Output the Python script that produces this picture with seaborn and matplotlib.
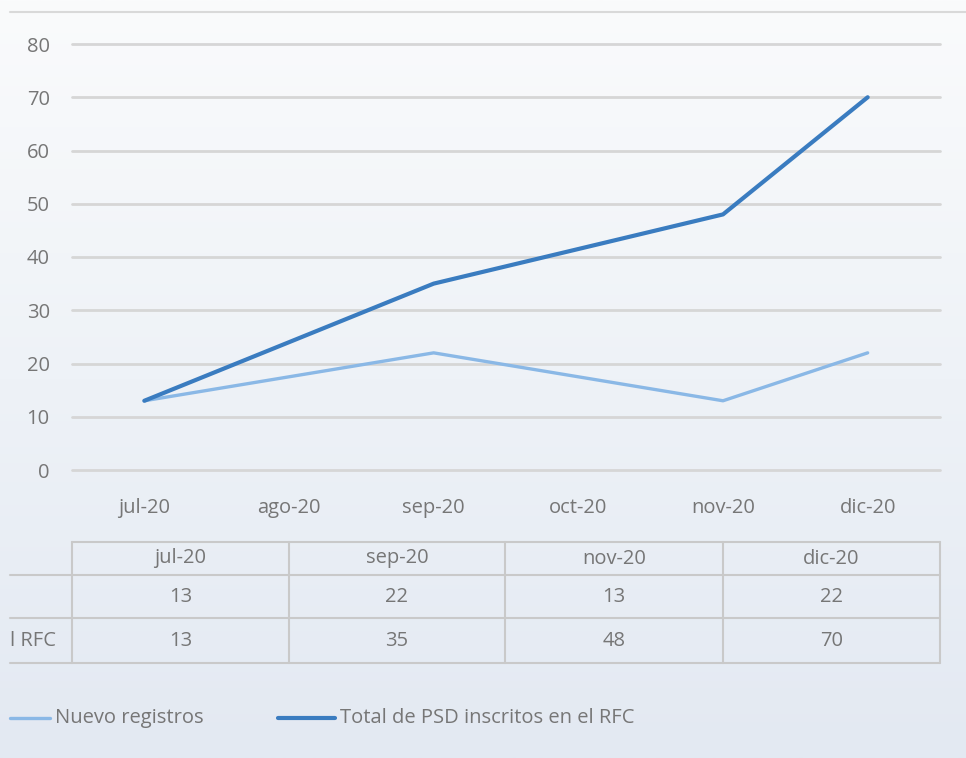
import numpy as np
import pandas as pd
import matplotlib
matplotlib.use("Agg")
import matplotlib.pyplot as plt
from matplotlib.lines import Line2D
import seaborn as sns

# data
months = ["jul-20", "ago-20", "sep-20", "oct-20", "nov-20", "dic-20"]
data_months = ["jul-20", "sep-20", "nov-20", "dic-20"]
nuevo = [13, 22, 13, 22]
total = [13, 35, 48, 70]
series_names = ["Nuevo registros", "Total de PSD inscritos en el RFC"]
row_labels = ["", "l RFC"]

c_light = "#8ab8e6"
c_dark = "#3a7cc0"
grey_txt = "#767676"
grid_col = "#d6d6d6"
fs = 14.5

sns.set_theme(style="white")
plt.rcParams["font.family"] = ["Open Sans", "DejaVu Sans"]

W, H = 966, 758
fig = plt.figure(figsize=(W / 100, H / 100), dpi=100)

# faded background
bg = fig.add_axes([0, 0, 1, 1], zorder=-10)
grad = np.linspace(0, 1, 256).reshape(-1, 1)
bg.imshow(grad, aspect="auto", cmap=matplotlib.colors.LinearSegmentedColormap.from_list(
    "bg", ["#fafbfc", "#eef2f7", "#e3e9f2"]), extent=[0, 1, 0, 1])
bg.axis("off")


def fx(px):
    return px / W


def fy(py):
    return 1 - py / H


ax = fig.add_axes([fx(72), fy(470), fx(940) - fx(72), fy(44) - fy(470)])
ax.patch.set_alpha(0)

df = pd.DataFrame({
    "pos": [months.index(m) for m in data_months],
    "nuevo": nuevo,
    "total": total,
})
sns.lineplot(data=df, x="pos", y="nuevo", ax=ax, color=c_light, linewidth=2.4)
sns.lineplot(data=df, x="pos", y="total", ax=ax, color=c_dark, linewidth=3.0)

ax.set_xlim(-0.5, len(months) - 0.5)
ax.set_ylim(0, 80)
ax.set_yticks(range(0, 81, 10))
ax.set_xticks(range(len(months)))
ax.set_xticklabels(months)
ax.set_xlabel("")
ax.set_ylabel("")
ax.yaxis.grid(True, color=grid_col, linewidth=2)
for gl in ax.get_ygridlines():
    gl.set_clip_on(False)
ax.xaxis.grid(False)
ax.tick_params(axis="y", length=0, pad=16, labelsize=fs, labelcolor=grey_txt)
ax.tick_params(axis="x", length=0, pad=20, labelsize=fs, labelcolor=grey_txt)
for s in ax.spines.values():
    s.set_visible(False)

# top border line
fig.add_artist(Line2D([fx(10), 1], [fy(12), fy(12)], color="#d9d9d9", linewidth=1.5))

# data table
cols = [72, 289, 505, 723, 940]
rows = [542, 575, 618, 663]
tcol = "#c9c9c9"
fig.add_artist(Line2D([fx(72), fx(940)], [fy(rows[0])] * 2, color=tcol, linewidth=1.5))
for r in rows[1:]:
    fig.add_artist(Line2D([fx(10), fx(940)], [fy(r)] * 2, color=tcol, linewidth=1.5))
for c in cols:
    fig.add_artist(Line2D([fx(c)] * 2, [fy(rows[0]), fy(rows[-1])], color=tcol, linewidth=1.5))

for i, m in enumerate(data_months):
    cx = fx((cols[i] + cols[i + 1]) / 2)
    fig.text(cx, fy((rows[0] + rows[1]) / 2), m, ha="center", va="center", fontsize=fs, color=grey_txt)
    fig.text(cx, fy((rows[1] + rows[2]) / 2), str(nuevo[i]), ha="center", va="center", fontsize=fs, color=grey_txt)
    fig.text(cx, fy((rows[2] + rows[3]) / 2), str(total[i]), ha="center", va="center", fontsize=fs, color=grey_txt)
for j, lab in enumerate(row_labels):
    fig.text(fx(10), fy((rows[j + 1] + rows[j + 2]) / 2), lab, ha="left", va="center", fontsize=fs, color=grey_txt)

# legend
ly = fy(718)
fig.add_artist(Line2D([fx(10), fx(50)], [ly, ly], color=c_light, linewidth=2.4))
fig.text(fx(55), ly, series_names[0], ha="left", va="center", fontsize=fs, color=grey_txt)
fig.add_artist(Line2D([fx(278), fx(335)], [ly, ly], color=c_dark, linewidth=3.0))
fig.text(fx(340), ly, series_names[1], ha="left", va="center", fontsize=fs, color=grey_txt)

fig.savefig("out.png", dpi=100)
